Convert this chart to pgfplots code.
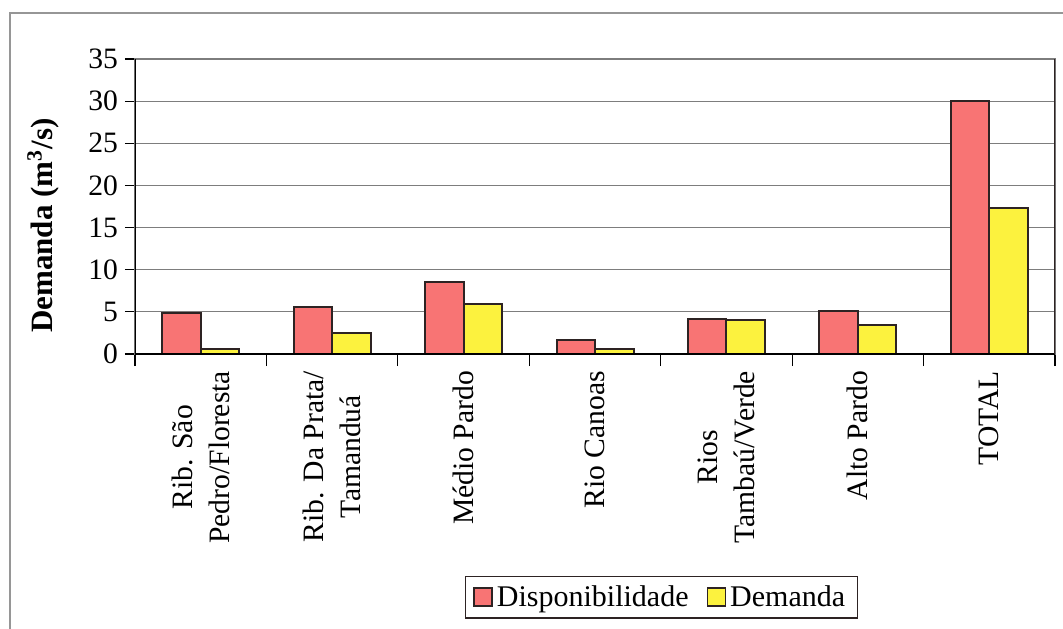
\documentclass[border=0pt]{standalone}
\usepackage{fontspec}
\setmainfont{Liberation Serif}
\usepackage{pgfplots}
\pgfplotsset{compat=1.18}

\definecolor{disp}{RGB}{248,116,116}
\definecolor{dem}{RGB}{252,242,62}
\definecolor{edge}{RGB}{45,35,35}
\definecolor{gridgray}{RGB}{125,125,125}
\definecolor{framegray}{RGB}{150,150,150}

\begin{document}
\begin{tikzpicture}
\useasboundingbox (-67.5pt,-137pt) rectangle (464pt,177pt);
% outer frame of the chart
\draw[framegray, line width=1pt] (-62.5pt,-140pt) -- (-62.5pt,170.5pt) -- (470pt,170.5pt);
\begin{axis}[
  width=460pt, height=147.5pt, scale only axis,
  ybar=0pt, bar width=19.25pt,
  xmin=-0.5, xmax=6.5, ymin=0, ymax=35,
  ytick={0,5,...,35},
  xtick={0,...,6},
  xticklabels={{Rib. São\\Pedro/Floresta}, {Rib. Da Prata/\\Tamanduá}, Médio Pardo, Rio Canoas, {Rios\\Tambaú/Verde}, Alto Pardo, TOTAL},
  minor xtick={-0.5,0.5,...,6.5},
  major x tick style={draw=none},
  xtick pos=bottom, ytick pos=left,
  tick align=outside, major tick length=5pt, minor tick length=6pt,
  tick style={black, line width=0.6pt},
  ymajorgrids, major grid style={gridgray, line width=0.6pt},
  axis line style={gridgray, line width=0.6pt},
  /pgf/number format/assume math mode=true,
  yticklabel style={font=\fontsize{14.8}{16}\selectfont},
  xticklabel style={rotate=90, anchor=east, align=center, font=\fontsize{14.8}{18.5}\selectfont},
  ylabel={\textbf{Demanda (m\textsuperscript{3}/s)}},
  y label style={at={(axis description cs:-0.1,0.435)}, anchor=center, font=\fontsize{15.5}{17}\selectfont},
  legend columns=2,
  legend style={at={(axis description cs:0.572,-0.824)}, anchor=center, draw=edge, line width=0.6pt,
    font=\fontsize{15}{17}\selectfont, inner xsep=4pt, inner ysep=2.5pt,
    /tikz/every even column/.append style={column sep=7pt}},
]
\addplot[fill=disp, draw=edge, line width=1pt,
  legend image code/.code={\draw[fill=disp, draw=edge, line width=0.8pt] (0pt,-4.5pt) rectangle (9pt,4.5pt);}]
  coordinates {(0,4.9) (1,5.6) (2,8.5) (3,1.7) (4,4.2) (5,5.1) (6,30.0)};
\addplot[fill=dem, draw=edge, line width=1pt,
  legend image code/.code={\draw[fill=dem, draw=edge, line width=0.8pt] (0pt,-4.5pt) rectangle (9pt,4.5pt);}]
  coordinates {(0,0.6) (1,2.5) (2,5.9) (3,0.6) (4,4.0) (5,3.4) (6,17.3)};
\legend{Disponibilidade, Demanda}
% darker left, bottom and right borders of the plot area
\draw[black, line width=1pt] (rel axis cs:0,1) -- (rel axis cs:0,0) -- (rel axis cs:1,0);
\draw[edge, line width=1pt] (rel axis cs:1,0) -- (rel axis cs:1,1);
\end{axis}
\end{tikzpicture}
\end{document}
